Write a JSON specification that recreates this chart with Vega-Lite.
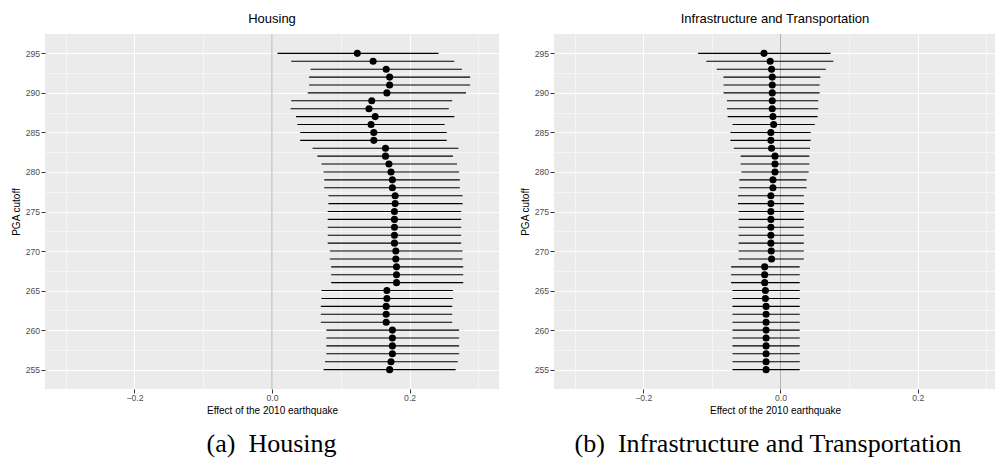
{
  "$schema": "https://vega.github.io/schema/vega-lite/v6.json",
  "padding": {"left": 11, "top": 12, "right": 0, "bottom": 0},
  "background": "white",
  "config": {
    "view": {"fill": "#EBEBEB", "stroke": null},
    "font": "Liberation Sans",
    "concat": {"spacing": 21},
    "title": {"font": "Liberation Sans", "fontSize": 13, "fontWeight": "normal", "color": "black", "offset": 8},
    "axis": {
      "domain": false,
      "gridColor": "white",
      "tickColor": "#333333",
      "tickSize": 4,
      "labelColor": "#4D4D4D",
      "labelFontSize": 8.6,
      "labelFont": "Liberation Sans",
      "labelPadding": 1.5,
      "titleFont": "Liberation Sans",
      "titleFontSize": 10,
      "titleFontWeight": "normal",
      "titleColor": "black"
    }
  },
  "datasets": {
    "est": [
      {"panel": "Housing", "pga": 295, "est": 0.124, "lo": 0.008, "hi": 0.242},
      {"panel": "Housing", "pga": 294, "est": 0.147, "lo": 0.028, "hi": 0.265},
      {"panel": "Housing", "pga": 293, "est": 0.166, "lo": 0.056, "hi": 0.276},
      {"panel": "Housing", "pga": 292, "est": 0.171, "lo": 0.054, "hi": 0.288},
      {"panel": "Housing", "pga": 291, "est": 0.171, "lo": 0.054, "hi": 0.288},
      {"panel": "Housing", "pga": 290, "est": 0.167, "lo": 0.052, "hi": 0.282},
      {"panel": "Housing", "pga": 289, "est": 0.145, "lo": 0.028, "hi": 0.262},
      {"panel": "Housing", "pga": 288, "est": 0.141, "lo": 0.027, "hi": 0.257},
      {"panel": "Housing", "pga": 287, "est": 0.150, "lo": 0.035, "hi": 0.265},
      {"panel": "Housing", "pga": 286, "est": 0.144, "lo": 0.037, "hi": 0.251},
      {"panel": "Housing", "pga": 285, "est": 0.148, "lo": 0.041, "hi": 0.254},
      {"panel": "Housing", "pga": 284, "est": 0.148, "lo": 0.041, "hi": 0.254},
      {"panel": "Housing", "pga": 283, "est": 0.165, "lo": 0.059, "hi": 0.271},
      {"panel": "Housing", "pga": 282, "est": 0.165, "lo": 0.066, "hi": 0.263},
      {"panel": "Housing", "pga": 281, "est": 0.170, "lo": 0.072, "hi": 0.269},
      {"panel": "Housing", "pga": 280, "est": 0.173, "lo": 0.075, "hi": 0.272},
      {"panel": "Housing", "pga": 279, "est": 0.175, "lo": 0.076, "hi": 0.273},
      {"panel": "Housing", "pga": 278, "est": 0.175, "lo": 0.076, "hi": 0.273},
      {"panel": "Housing", "pga": 277, "est": 0.179, "lo": 0.082, "hi": 0.277},
      {"panel": "Housing", "pga": 276, "est": 0.179, "lo": 0.082, "hi": 0.277},
      {"panel": "Housing", "pga": 275, "est": 0.178, "lo": 0.081, "hi": 0.275},
      {"panel": "Housing", "pga": 274, "est": 0.178, "lo": 0.081, "hi": 0.275},
      {"panel": "Housing", "pga": 273, "est": 0.178, "lo": 0.081, "hi": 0.275},
      {"panel": "Housing", "pga": 272, "est": 0.178, "lo": 0.081, "hi": 0.275},
      {"panel": "Housing", "pga": 271, "est": 0.178, "lo": 0.081, "hi": 0.275},
      {"panel": "Housing", "pga": 270, "est": 0.180, "lo": 0.084, "hi": 0.277},
      {"panel": "Housing", "pga": 269, "est": 0.180, "lo": 0.084, "hi": 0.277},
      {"panel": "Housing", "pga": 268, "est": 0.181, "lo": 0.086, "hi": 0.278},
      {"panel": "Housing", "pga": 267, "est": 0.181, "lo": 0.086, "hi": 0.278},
      {"panel": "Housing", "pga": 266, "est": 0.181, "lo": 0.086, "hi": 0.278},
      {"panel": "Housing", "pga": 265, "est": 0.167, "lo": 0.072, "hi": 0.263},
      {"panel": "Housing", "pga": 264, "est": 0.167, "lo": 0.072, "hi": 0.263},
      {"panel": "Housing", "pga": 263, "est": 0.166, "lo": 0.071, "hi": 0.262},
      {"panel": "Housing", "pga": 262, "est": 0.166, "lo": 0.071, "hi": 0.262},
      {"panel": "Housing", "pga": 261, "est": 0.166, "lo": 0.071, "hi": 0.262},
      {"panel": "Housing", "pga": 260, "est": 0.175, "lo": 0.079, "hi": 0.272},
      {"panel": "Housing", "pga": 259, "est": 0.175, "lo": 0.079, "hi": 0.272},
      {"panel": "Housing", "pga": 258, "est": 0.175, "lo": 0.079, "hi": 0.272},
      {"panel": "Housing", "pga": 257, "est": 0.175, "lo": 0.079, "hi": 0.272},
      {"panel": "Housing", "pga": 256, "est": 0.173, "lo": 0.077, "hi": 0.270},
      {"panel": "Housing", "pga": 255, "est": 0.171, "lo": 0.075, "hi": 0.267},
      {"panel": "Infra", "pga": 295, "est": -0.024, "lo": -0.120, "hi": 0.073},
      {"panel": "Infra", "pga": 294, "est": -0.015, "lo": -0.108, "hi": 0.077},
      {"panel": "Infra", "pga": 293, "est": -0.013, "lo": -0.093, "hi": 0.066},
      {"panel": "Infra", "pga": 292, "est": -0.012, "lo": -0.083, "hi": 0.058},
      {"panel": "Infra", "pga": 291, "est": -0.012, "lo": -0.083, "hi": 0.057},
      {"panel": "Infra", "pga": 290, "est": -0.012, "lo": -0.083, "hi": 0.057},
      {"panel": "Infra", "pga": 289, "est": -0.012, "lo": -0.078, "hi": 0.055},
      {"panel": "Infra", "pga": 288, "est": -0.012, "lo": -0.078, "hi": 0.055},
      {"panel": "Infra", "pga": 287, "est": -0.011, "lo": -0.077, "hi": 0.054},
      {"panel": "Infra", "pga": 286, "est": -0.010, "lo": -0.070, "hi": 0.050},
      {"panel": "Infra", "pga": 285, "est": -0.014, "lo": -0.073, "hi": 0.044},
      {"panel": "Infra", "pga": 284, "est": -0.014, "lo": -0.073, "hi": 0.044},
      {"panel": "Infra", "pga": 283, "est": -0.013, "lo": -0.068, "hi": 0.043},
      {"panel": "Infra", "pga": 282, "est": -0.008, "lo": -0.058, "hi": 0.042},
      {"panel": "Infra", "pga": 281, "est": -0.008, "lo": -0.058, "hi": 0.042},
      {"panel": "Infra", "pga": 280, "est": -0.008, "lo": -0.057, "hi": 0.041},
      {"panel": "Infra", "pga": 279, "est": -0.011, "lo": -0.060, "hi": 0.038},
      {"panel": "Infra", "pga": 278, "est": -0.011, "lo": -0.060, "hi": 0.038},
      {"panel": "Infra", "pga": 277, "est": -0.014, "lo": -0.062, "hi": 0.034},
      {"panel": "Infra", "pga": 276, "est": -0.014, "lo": -0.062, "hi": 0.034},
      {"panel": "Infra", "pga": 275, "est": -0.014, "lo": -0.061, "hi": 0.034},
      {"panel": "Infra", "pga": 274, "est": -0.014, "lo": -0.061, "hi": 0.034},
      {"panel": "Infra", "pga": 273, "est": -0.014, "lo": -0.061, "hi": 0.034},
      {"panel": "Infra", "pga": 272, "est": -0.014, "lo": -0.061, "hi": 0.034},
      {"panel": "Infra", "pga": 271, "est": -0.014, "lo": -0.061, "hi": 0.034},
      {"panel": "Infra", "pga": 270, "est": -0.0135, "lo": -0.061, "hi": 0.034},
      {"panel": "Infra", "pga": 269, "est": -0.013, "lo": -0.061, "hi": 0.034},
      {"panel": "Infra", "pga": 268, "est": -0.023, "lo": -0.072, "hi": 0.028},
      {"panel": "Infra", "pga": 267, "est": -0.023, "lo": -0.072, "hi": 0.028},
      {"panel": "Infra", "pga": 266, "est": -0.023, "lo": -0.072, "hi": 0.028},
      {"panel": "Infra", "pga": 265, "est": -0.022, "lo": -0.070, "hi": 0.028},
      {"panel": "Infra", "pga": 264, "est": -0.022, "lo": -0.070, "hi": 0.028},
      {"panel": "Infra", "pga": 263, "est": -0.021, "lo": -0.070, "hi": 0.028},
      {"panel": "Infra", "pga": 262, "est": -0.021, "lo": -0.070, "hi": 0.028},
      {"panel": "Infra", "pga": 261, "est": -0.021, "lo": -0.070, "hi": 0.028},
      {"panel": "Infra", "pga": 260, "est": -0.021, "lo": -0.070, "hi": 0.028},
      {"panel": "Infra", "pga": 259, "est": -0.021, "lo": -0.070, "hi": 0.028},
      {"panel": "Infra", "pga": 258, "est": -0.021, "lo": -0.070, "hi": 0.028},
      {"panel": "Infra", "pga": 257, "est": -0.021, "lo": -0.070, "hi": 0.028},
      {"panel": "Infra", "pga": 256, "est": -0.021, "lo": -0.070, "hi": 0.028},
      {"panel": "Infra", "pga": 255, "est": -0.021, "lo": -0.070, "hi": 0.028}
    ],
    "zero": [{"x": 0}]
  },
  "hconcat": [
    {
      "title": {"text": "(a)\u2002Housing", "orient": "bottom", "anchor": "middle", "font": "Liberation Serif", "fontSize": 26, "fontWeight": "normal", "color": "black", "offset": 16, "dx": 16.5},
      "vconcat": [
        {
          "title": "Housing",
          "width": 454,
          "height": 355,
          "encoding": {
            "y": {"field": "pga", "type": "quantitative", "scale": {"domain": [252.55, 297.45], "nice": false, "zero": false},
              "axis": {"title": "PGA cutoff", "titlePadding": 4, "values": [255, 257.5, 260, 262.5, 265, 267.5, 270, 272.5, 275, 277.5, 280, 282.5, 285, 287.5, 290, 292.5, 295],
                "labelExpr": "datum.value % 5 == 0 ? datum.label : ''", "format": "d",
                "gridWidth": {"condition": {"test": "datum.value % 5 != 0", "value": 0.5}, "value": 1.1},
                "tickOpacity": {"condition": {"test": "datum.value % 5 != 0", "value": 0}, "value": 1}}}
          },
          "layer": [
            {
              "data": {"name": "zero"},
              "mark": {"type": "rule", "color": "#B3B3B3", "strokeWidth": 1},
              "encoding": {"x": {"field": "x", "type": "quantitative"}, "y": null}
            },
            {
              "data": {"name": "est"},
              "transform": [{"filter": "datum.panel == 'Housing'"}],
              "mark": {"type": "rule", "color": "black", "strokeWidth": 1.1},
              "encoding": {
                "x": {"field": "lo", "type": "quantitative", "scale": {"domain": [-0.33, 0.33], "nice": false, "zero": false},
                  "axis": {"title": "Effect of the 2010 earthquake", "titlePadding": 3, "labelPadding": 0.5, "values": [-0.3, -0.2, -0.1, 0, 0.1, 0.2, 0.3], "format": ".1f",
                    "labelExpr": "abs(round(datum.value*10)) % 2 == 1 ? '' : datum.label",
                    "gridWidth": {"condition": {"test": "abs(round(datum.value*10)) % 2 == 1", "value": 0.5}, "value": 1.1},
                    "tickOpacity": {"condition": {"test": "abs(round(datum.value*10)) % 2 == 1", "value": 0}, "value": 1}}},
                "x2": {"field": "hi"}
              }
            },
            {
              "data": {"name": "est"},
              "transform": [{"filter": "datum.panel == 'Housing'"}],
              "mark": {"type": "circle", "color": "black", "opacity": 1, "size": 50},
              "encoding": {"x": {"field": "est", "type": "quantitative"}}
            }
          ]
        }
      ]
    },
    {
      "title": {"text": "(b)\u2002Infrastructure and Transportation", "orient": "bottom", "anchor": "middle", "font": "Liberation Serif", "fontSize": 26, "fontWeight": "normal", "color": "black", "offset": 16, "dx": 10},
      "vconcat": [
        {
          "title": "Infrastructure and Transportation",
          "width": 442,
          "height": 355,
          "encoding": {
            "y": {"field": "pga", "type": "quantitative", "scale": {"domain": [252.55, 297.45], "nice": false, "zero": false},
              "axis": {"title": "PGA cutoff", "titlePadding": 4, "values": [255, 257.5, 260, 262.5, 265, 267.5, 270, 272.5, 275, 277.5, 280, 282.5, 285, 287.5, 290, 292.5, 295],
                "labelExpr": "datum.value % 5 == 0 ? datum.label : ''", "format": "d",
                "gridWidth": {"condition": {"test": "datum.value % 5 != 0", "value": 0.5}, "value": 1.1},
                "tickOpacity": {"condition": {"test": "datum.value % 5 != 0", "value": 0}, "value": 1}}}
          },
          "layer": [
            {
              "data": {"name": "zero"},
              "mark": {"type": "rule", "color": "#B3B3B3", "strokeWidth": 1},
              "encoding": {"x": {"field": "x", "type": "quantitative"}, "y": null}
            },
            {
              "data": {"name": "est"},
              "transform": [{"filter": "datum.panel == 'Infra'"}],
              "mark": {"type": "rule", "color": "black", "strokeWidth": 1.1},
              "encoding": {
                "x": {"field": "lo", "type": "quantitative", "scale": {"domain": [-0.33, 0.314], "nice": false, "zero": false},
                  "axis": {"title": "Effect of the 2010 earthquake", "titlePadding": 3, "labelPadding": 0.5, "values": [-0.3, -0.2, -0.1, 0, 0.1, 0.2, 0.3], "format": ".1f",
                    "labelExpr": "abs(round(datum.value*10)) % 2 == 1 ? '' : datum.label",
                    "gridWidth": {"condition": {"test": "abs(round(datum.value*10)) % 2 == 1", "value": 0.5}, "value": 1.1},
                    "tickOpacity": {"condition": {"test": "abs(round(datum.value*10)) % 2 == 1", "value": 0}, "value": 1}}},
                "x2": {"field": "hi"}
              }
            },
            {
              "data": {"name": "est"},
              "transform": [{"filter": "datum.panel == 'Infra'"}],
              "mark": {"type": "circle", "color": "black", "opacity": 1, "size": 50},
              "encoding": {"x": {"field": "est", "type": "quantitative"}}
            }
          ]
        }
      ]
    }
  ]
}
